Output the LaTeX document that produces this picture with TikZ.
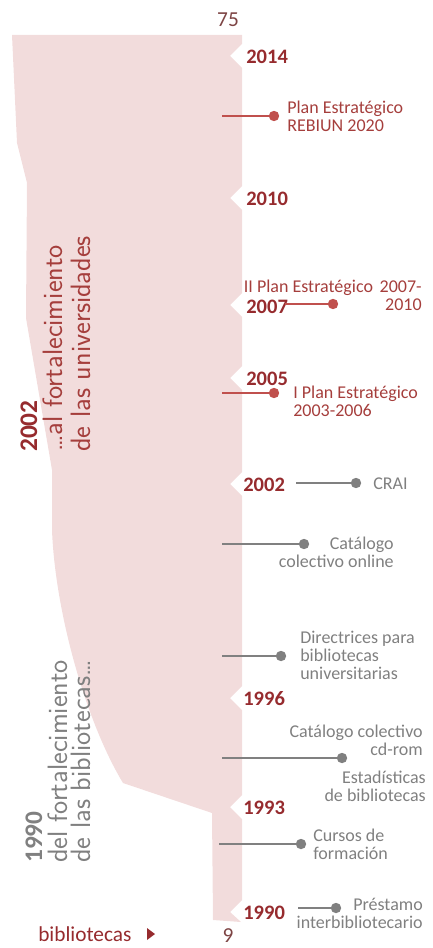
\documentclass[tikz,border=0pt]{standalone}
\usepackage{fontspec}
\setmainfont{Carlito}
\usetikzlibrary{positioning}

\definecolor{bandpink}{RGB}{242,220,220}
\definecolor{yearred}{RGB}{150,43,46}
\definecolor{linered}{RGB}{192,80,77}
\definecolor{lblred}{RGB}{165,62,60}
\definecolor{linegray}{RGB}{128,128,128}
\definecolor{txtgray}{RGB}{128,128,128}
\definecolor{numcol}{RGB}{125,68,68}

\tikzset{
  year/.style={font=\fontsize{15.4}{16}\selectfont\bfseries, text=yearred, anchor=west, inner sep=0},
  lbl/.style={font=\fontsize{13.5}{13.6}\selectfont, inner sep=0, align=left},
  redlbl/.style={lbl, text=lblred},
  graylbl/.style={lbl, text=txtgray},
  reddot/.style={circle, fill=linered, inner sep=0, minimum size=7.8pt},
  graydot/.style={circle, fill=linegray, inner sep=0, minimum size=7.8pt},
  redline/.style={draw=linered, line width=2pt},
  grayline/.style={draw=linegray, line width=2pt},
  rotyear/.style={font=\fontsize{19}{20}\selectfont\bfseries, rotate=90, anchor=base west, inner sep=0},
  rottxt/.style={font=\sffamily\fontsize{21}{22}\selectfont, rotate=90, anchor=base west, inner sep=0},
  numtxt/.style={font=\fontsize{16}{17}\selectfont, text=numcol, inner sep=0}
}

\begin{document}
\begin{tikzpicture}[x=0.75pt, y=-0.75pt]
    \useasboundingbox (0,0) rectangle (432,948);

    % Band
    \fill[bandpink] (12,35) -- (242,35)
    -- (242,44) -- (230,56) -- (242,68)
    -- (242,186) -- (230,198) -- (242,210)
    -- (242,293) -- (230,305) -- (242,317)
    -- (242,366) -- (230,378) -- (242,390)
    -- (242,472) -- (230,484) -- (242,496)
    -- (242,686) -- (230,698) -- (242,710)
    -- (242,795) -- (230,807) -- (242,819)
    -- (242,900) -- (230,912) -- (241,922)
    -- (213,920) -- (212,813) -- (123,783)
    .. controls (85,720) and (55,610) .. (52,530)
    -- (52,470) -- (26,318) -- (27,183) -- (17,143) -- cycle;

    % Scale
    \node[numtxt, anchor=north] (top) at (228,13) {75};
    \node[numtxt, anchor=north] (bottom) at (228,928) {9};
    \node[numtxt, text=yearred, anchor=north west] (axis) at (38,926) {bibliotecas};
    \fill[yearred] (147,928) -- (155,934) -- (147,940) -- cycle;

    % Years
    \node[year] (y2014) at (246,57) {2014};
    \node[year] (y2010) at (246,199) {2010};
    \node[year] (y2007) at (246,307) {2007};
    \node[year] (y2005) at (246,379) {2005};
    \node[year] (y2002) at (243,485) {2002};
    \node[year] (y1996) at (243,699) {1996};
    \node[year] (y1993) at (243,808) {1993};
    \node[year] (y1990) at (243,913) {1990};

    % Strategic plans
    \coordinate (s2020) at (222,116);
    \node[reddot] (d2020) at (274,116) {};
    \draw[redline] (s2020) -- (d2020);
    \node[redlbl, anchor=north west] (l2020) at (287,101) {Plan Estratégico\\REBIUN 2020};

    \coordinate (s2007) at (285,304);
    \node[reddot] (d2007) at (333,304) {};
    \draw[redline] (s2007) -- (d2007);
    \node[redlbl, anchor=north east, align=right] (l2007) at (422,280) {II Plan Estratégico\hspace{2pt} 2007-\\2010};

    \coordinate (s2003) at (222,393);
    \node[reddot] (d2003) at (274,393) {};
    \draw[redline] (s2003) -- (d2003);
    \node[redlbl, anchor=north west] (l2003) at (293,386) {I Plan Estratégico\\2003-2006};

    % Services
    \coordinate (scrai) at (296,483);
    \node[graydot] (dcrai) at (356,483) {};
    \draw[grayline] (scrai) -- (dcrai);
    \node[graylbl, anchor=north west] (lcrai) at (373,478) {CRAI};

    \coordinate (sonline) at (222,544);
    \node[graydot] (donline) at (304,544) {};
    \draw[grayline] (sonline) -- (donline);
    \node[graylbl, anchor=north east, align=right] (lonline) at (394,537) {Catálogo\\colectivo online};

    \coordinate (sdir) at (222,656);
    \node[graydot] (ddir) at (281,656) {};
    \draw[grayline] (sdir) -- (ddir);
    \node[graylbl, anchor=north west] (ldir) at (300,631) {Directrices para\\bibliotecas\\universitarias};

    \coordinate (scd) at (222,758);
    \node[graydot] (dcd) at (342,758) {};
    \draw[grayline] (scd) -- (dcd);
    \node[graylbl, anchor=north east, align=right] (lcd) at (423,725) {Catálogo colectivo\\cd-rom};
    \node[graylbl, anchor=north east, align=right] (lstat) at (426,771) {Estadísticas\\de bibliotecas};

    \coordinate (scur) at (219,844);
    \node[graydot] (dcur) at (301,844) {};
    \draw[grayline] (scur) -- (dcur);
    \node[graylbl, anchor=north west] (lcur) at (313,829) {Cursos de\\formación};

    \coordinate (spres) at (298,908);
    \node[graydot] (dpres) at (336,908) {};
    \draw[grayline] (spres) -- (dpres);
    \node[graylbl, anchor=north east, align=right] (lpres) at (423,898) {Préstamo\\interbibliotecario};

    % Periods
    \node[rotyear, text=yearred] (p2002) at (37,452) {2002};
    \node[rottxt, text=lblred] (p2002a) at (62,452) {…al fortalecimiento};
    \node[rottxt, text=lblred] (p2002b) at (90,452) {de las universidades};

    \node[rotyear, text=txtgray] (p1990) at (42,863) {1990};
    \node[rottxt, text=txtgray] (p1990a) at (67,863) {del fortalecimiento};
    \node[rottxt, text=txtgray] (p1990b) at (90,863) {de las bibliotecas…};
\end{tikzpicture}
\end{document}
